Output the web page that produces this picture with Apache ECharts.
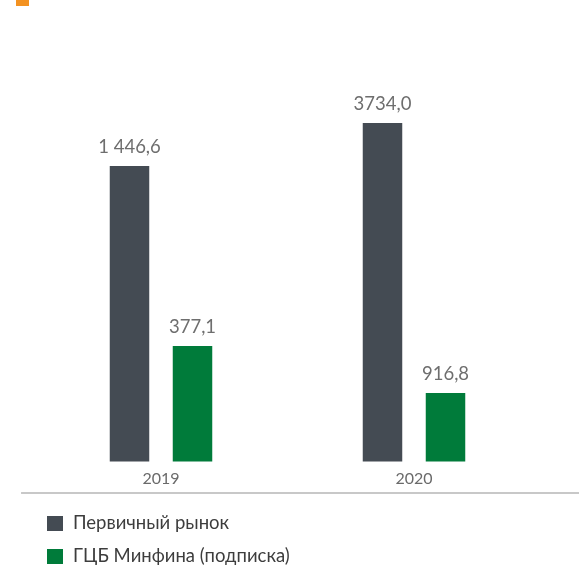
<!DOCTYPE html>
<html>
<head>
<meta charset="utf-8">
<script src="https://cdn.jsdelivr.net/npm/echarts@6/dist/echarts.min.js"></script>
<style>
html,body{margin:0;padding:0;background:#fff;}
#chart{width:579px;height:565px;}
</style>
</head>
<body>
<div id="chart"></div>
<script>
// Categories
var years = ['2019', '2020'];
// Series names
var seriesNames = ['Первичный рынок', 'ГЦБ Минфина (подписка)'];
// Values shown in the labels (as printed in the source)
var primaryLabels = ['1 446,6', '3734,0'];
var minfinLabels = ['377,1', '916,8'];
// The source draws bars not to scale: visible bar heights (px)
var primaryBarHeights = [295.5, 338.5];
var minfinBarHeights = [115.5, 68.5];

var chart = echarts.init(document.getElementById('chart'), null, {renderer: 'canvas'});

var labelFont = {
  fontFamily: 'Lato, "Open Sans", sans-serif',
  fontSize: 18.5,
  color: '#6e6e6e'
};

var option = {
  animation: false,
  backgroundColor: '#ffffff',
  graphic: [
    {type: 'rect', left: 16, top: 0, shape: {width: 13, height: 6}, style: {fill: '#f39221'}}
  ],
  legend: {
    orient: 'vertical',
    left: 47,
    top: 514,
    height: 100,
    padding: 0,
    itemWidth: 16,
    itemHeight: 15,
    itemGap: 14,
    icon: 'rect',
    textStyle: {
      fontFamily: 'Lato, "Open Sans", sans-serif',
      fontSize: 18.5,
      lineHeight: 16,
      padding: [0, 0, 0, 5],
      color: '#3d3d3d'
    },
    data: seriesNames
  },
  grid: [
    {left: 34.5, width: 506, top: 100, height: 361.5},
    {left: 22, right: 0, top: 461.5, height: 31}
  ],
  xAxis: [
    {
      type: 'category', gridIndex: 0, data: years,
      axisLine: {show: false}, axisTick: {show: false},
      axisLabel: {
        margin: 9,
        fontFamily: 'Lato, "Open Sans", sans-serif',
        fontSize: 16,
        color: '#6a6a6a'
      }
    },
    {
      type: 'category', gridIndex: 1, position: 'top', data: years,
      axisLine: {show: true, lineStyle: {color: '#c2c2c2', width: 2}},
      axisTick: {show: false}, axisLabel: {show: false}
    },
    {
      type: 'category', gridIndex: 1, position: 'bottom', data: years,
      axisLine: {show: true, lineStyle: {color: '#c8c8c8', width: 2}},
      axisTick: {show: false}, axisLabel: {show: false}
    }
  ],
  yAxis: [
    {type: 'value', gridIndex: 0, min: 0, max: 361.5, show: false, splitLine: {show: false}},
    {type: 'value', gridIndex: 1, show: false, splitLine: {show: false}}
  ],
  series: [
    {
      name: seriesNames[0], type: 'bar', xAxisIndex: 0, yAxisIndex: 0,
      data: primaryBarHeights, barWidth: 39.5, barGap: '59.5%',
      itemStyle: {color: '#444b53'},
      label: Object.assign({
        show: true, position: 'top', distance: 9,
        formatter: function (p) { return primaryLabels[p.dataIndex]; }
      }, labelFont)
    },
    {
      name: seriesNames[1], type: 'bar', xAxisIndex: 0, yAxisIndex: 0,
      data: minfinBarHeights, barWidth: 39.5, barGap: '59.5%',
      itemStyle: {color: '#007b3a'},
      label: Object.assign({
        show: true, position: 'top', distance: 9,
        formatter: function (p) { return minfinLabels[p.dataIndex]; }
      }, labelFont)
    }
  ]
};
chart.setOption(option);
</script>
</body>
</html>
